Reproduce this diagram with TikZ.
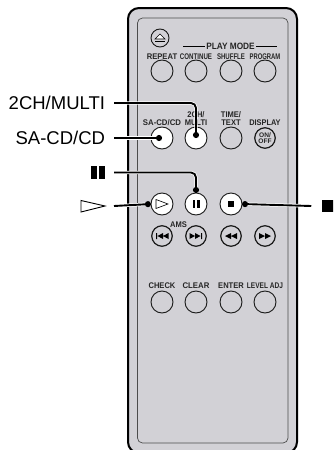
\documentclass[tikz,border=0pt]{standalone}
\usepackage{fontspec}
\setmainfont{Liberation Sans}
\usetikzlibrary{arrows.meta}
\definecolor{bodygray}{HTML}{D2D1D6}
\tikzset{
	btn/.style={circle,draw=black!90,line width=0.9pt,minimum size=22pt,inner sep=0pt,outer sep=0pt},
	btnlit/.style={btn,fill=white},
	btnsmall/.style={btn,line width=1.2pt,minimum size=20.5pt},
	captxt/.style={font=\fontsize{8.2}{8.2}\bfseries\selectfont,text=black!85,inner sep=0pt,align=center,transform shape},
	lbl/.style={font=\fontsize{18.5}{18.5}\selectfont,anchor=east,inner sep=0pt,inner xsep=4.5pt,outer xsep=4.5pt},
	conn/.style={line width=1.9pt,rounded corners=5pt,-{Circle[length=6pt]},preaction={draw=white,line width=3.4pt,-}}
}
\begin{document}
\begin{tikzpicture}[x=1pt,y=-1pt]
	\useasboundingbox (0,0) rectangle (333,450);
	\clip (0,0) rectangle (333,450);

	% Case
	\draw[fill=bodygray,line width=2pt,rounded corners=11pt] (128,8) rectangle (297,453);
	\draw[black!70,line width=0.7pt,rounded corners=5pt] (137.5,18) rectangle (288,443);

	% Eject
	\node[btn,minimum size=18pt] (btneject) at (160,38) {};
	\draw[fill=white,line width=0.6pt] (155,39) -- (160,34) -- (165,39) -- cycle;
	\fill (155,40.5) rectangle (165,42);

	% Play mode heading
	\node[captxt,font=\fontsize{9.2}{9.2}\bfseries\selectfont,inner xsep=1pt,xscale=0.9] (capplay) at (230.5,46.5) {PLAY MODE};
	\draw[line width=0.7pt] (183,46.5) -- (capplay.west);
	\draw[line width=0.7pt] (capplay.east) -- (277,46.5);

	% Plain rows of buttons
	\foreach \name/\x/\txt/\sc in {repeat/162/REPEAT/0.93, continue/196/CONTINUE/0.75, shuffle/231/SHUFFLE/0.74, program/265/PROGRAM/0.72} {
		\node[btn] (btn\name) at (\x,71) {};
		\node[captxt,xscale=\sc] (cap\name) at (\x,56.5) {\txt};
	}
	\foreach \name/\x/\txt/\sc in {check/162/CHECK/0.92, clear/196/CLEAR/0.95, enter/231/ENTER/0.92, level/265/LEVEL ADJ/0.8} {
		\node[btn] (btn\name) at (\x,302) {};
		\node[captxt,xscale=\sc] (cap\name) at (\x,286) {\txt};
	}

	% Second row
	\node[btnlit] (btnsacd) at (162,138) {};
	\node[btnlit] (btnmulti) at (196,138) {};
	\node[btn] (btntime) at (231,138) {};
	\node[btnsmall] (btnonoff) at (265,138) {};
	\node[captxt,font=\fontsize{6.6}{6.6}\bfseries\selectfont] (caponoff) at (265,138) {ON/\\OFF};
	\node[captxt,xscale=0.95] (capsacd) at (162,122.5) {SA-CD/CD};
	\node[captxt,xscale=0.92] (capmulti) at (196,118.5) {2CH/\\MULTI};
	\node[captxt,xscale=0.92] (captime) at (231,118.5) {TIME/\\TEXT};
	\node[captxt,xscale=0.9] (capdisplay) at (265,122.5) {DISPLAY};

	% Third row
	\node[btnlit] (btnplay) at (162,204) {};
	\node[btnlit] (btnpause) at (196,204) {};
	\node[btnlit] (btnstop) at (231,204) {};
	\draw[line width=0.6pt] (156,199.5) -- (168,204) -- (156,208.5) -- cycle;
	\fill (192.5,200) rectangle (195,208);
	\fill (197,200) rectangle (199.5,208);
	\fill (228,201) rectangle (234,207);

	% AMS row
	\node[captxt,xscale=0.92] (capams) at (178.5,224.5) {AMS};
	\node[btnsmall] (btnprev) at (162,236) {};
	\node[btnsmall] (btnnext) at (196,236) {};
	\node[btnsmall] (btnrew) at (231,236) {};
	\node[btnsmall] (btnfwd) at (265,236) {};
	\fill (156,233) rectangle (157,239) (163,233) -- (157.5,236) -- (163,239) -- cycle (168.5,233) -- (163,236) -- (168.5,239) -- cycle;
	\fill (202,233) rectangle (201,239) (195,233) -- (200.5,236) -- (195,239) -- cycle (189.5,233) -- (195,236) -- (189.5,239) -- cycle;
	\fill (231,233) -- (225,236) -- (231,239) -- cycle (237,233) -- (231,236) -- (237,239) -- cycle;
	\fill (265,233) -- (271,236) -- (265,239) -- cycle (259,233) -- (265,236) -- (259,239) -- cycle;

	% Labels outside the case
	\node[lbl] (lblmulti) at (114,103) {2CH/MULTI};
	\node[lbl] (lblsacd) at (114,138) {SA-CD/CD};
	\node[lbl] (lblpause) at (114,172.5) {\rule{6pt}{13pt}\hspace{2.5pt}\rule{6pt}{13pt}};
	\coordinate (lblplay) at (114,206);
	\draw[line width=0.9pt] (81,200.5) -- (105,206) -- (81,212) -- cycle;
	\node[fill=black,minimum size=11.5pt,inner sep=0pt,outer xsep=11pt] (lblstop) at (328,206) {};

	% Connectors
	\draw[conn] (lblmulti.east) -| (btnmulti.center);
	\draw[conn] (lblsacd.east) -- (btnsacd.center);
	\draw[conn] (lblpause.east) -| (btnpause.north);
	\draw[conn] (lblplay) -- (btnplay.west);
	\draw[conn] (lblstop.west) -- (btnstop.east);
\end{tikzpicture}
\end{document}
